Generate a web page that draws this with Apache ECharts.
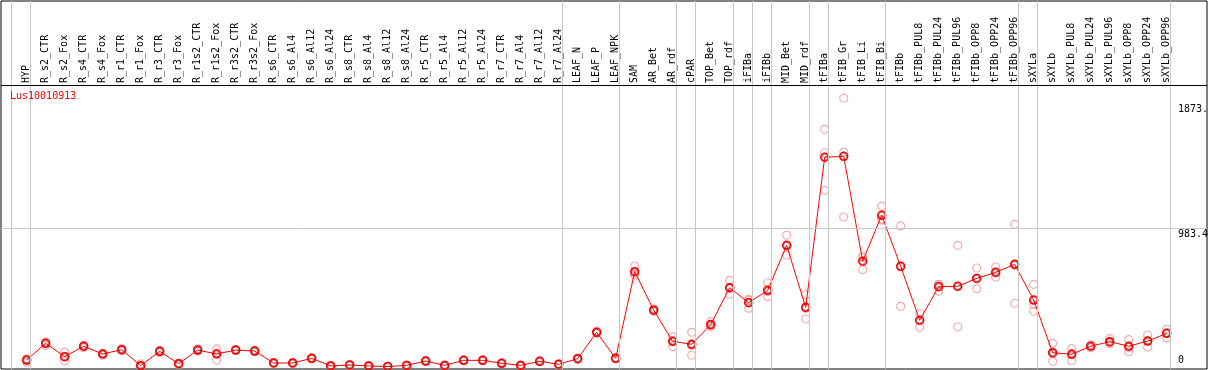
<!DOCTYPE html>
<html>
<head>
<meta charset="utf-8">
<script src="https://cdn.jsdelivr.net/npm/echarts@6/dist/echarts.min.js"></script>
<style>
html,body{margin:0;padding:0;background:#fff;}
#chart{width:1209px;height:370px;}
</style>
</head>
<body>
<div id="chart"></div>
<script>
const geneName = 'Lus10010913';
const categories = ['HYP','R_s2_CTR','R_s2_Fox','R_s4_CTR','R_s4_Fox','R_r1_CTR','R_r1_Fox','R_r3_CTR','R_r3_Fox','R_r1s2_CTR','R_r1s2_Fox','R_r3s2_CTR','R_r3s2_Fox','R_s6_CTR','R_s6_Al4','R_s6_Al12','R_s6_Al24','R_s8_CTR','R_s8_Al4','R_s8_Al12','R_s8_Al24','R_r5_CTR','R_r5_Al4','R_r5_Al12','R_r5_Al24','R_r7_CTR','R_r7_Al4','R_r7_Al12','R_r7_Al24','LEAF_N','LEAF_P','LEAF_NPK','SAM','AR_Bet','AR_rdf','cPAR','TOP_Bet','TOP_rdf','iFIBa','iFIBb','MID_Bet','MID_rdf','tFIBa','tFIB_Gr','tFIB_Li','tFIB_Bi','tFIBb','tFIBb_PUL8','tFIBb_PUL24','tFIBb_PUL96','tFIBb_OPP8','tFIBb_OPP24','tFIBb_OPP96','sXYLa','sXYLb','sXYLb_PUL8','sXYLb_PUL24','sXYLb_PUL96','sXYLb_OPP8','sXYLb_OPP24','sXYLb_OPP96'];
const means = [46,165,70,144,89,120,6,108,20,117,89,117,110,25,25,58,4,11,4,0,8,39,8,44,44,23,8,37,16,56,243,58,675,401,179,158,298,561,454,542,862,421,1489,1496,749,1076,713,329,568,571,627,670,727,473,98,87,144,177,144,181,236];
const rep1 = [55,175,101,150,95,128,18,115,25,125,125,120,115,28,28,62,6,13,6,1,10,42,10,47,47,26,10,40,19,59,250,62,715,410,212,243,319,613,478,596,934,511,1688,1909,781,1140,1000,379,585,862,701,708,1012,585,165,127,155,198,191,224,265];
const rep2 = [45,165,70,144,89,120,0,108,20,117,96,117,110,25,25,58,4,11,4,0,8,39,8,44,44,23,8,37,16,56,243,58,658,400,184,151,292,556,470,533,859,414,1521,1526,777,1047,713,329,582,570,627,668,720,441,92,93,144,170,136,182,240];
const rep3 = [30,150,41,135,80,112,0,100,15,110,46,113,105,22,22,54,2,9,2,0,6,36,6,41,41,20,6,34,13,53,236,54,652,393,141,80,283,514,414,497,793,338,1254,1064,689,1041,428,279,537,281,554,635,450,393,37,41,133,163,105,137,203];
const groupEnds = [-1,0,28,31,34,35,37,38,39,41,42,45,52,53,60];
const yTickValues = [0, 983.4, 1873];
const yTickLabels = ['0', '983.4', '1873.'];

// layout (pixels)
const FIRST_X = 26.7, STEP = 19, LEFT = 1, RIGHT_EDGE = 1207, TOP = 1, BOTTOM_EDGE = 369;
const ZERO_Y = 366.5, PX_PER_UNIT = 0.14053, HEADER_Y = 85.7, YLABEL_X = 1178;
const xMin = (LEFT - FIRST_X) / STEP, xMax = (RIGHT_EDGE - FIRST_X) / STEP;
const yMin = -(BOTTOM_EDGE - ZERO_Y) / PX_PER_UNIT, yMax = (ZERO_Y - TOP) / PX_PER_UNIT;
const headerVal = (ZERO_Y - HEADER_Y) / PX_PER_UNIT;
const FONT = 'DejaVu Sans Mono';

const chart = echarts.init(document.getElementById('chart'), null, {renderer: 'canvas'});
const pts = arr => arr.map((v, i) => [i, v]);

const tickMarks = yTickValues.map((v, k) => ({
  yAxis: v,
  lineStyle: v === 983.4 ? {color: '#c8c8c8', width: 1, type: 'solid'} : {color: 'rgba(0,0,0,0)', width: 0},
  label: {show: true, formatter: yTickLabels[k], position: v === 0 ? 'insideEndTop' : 'insideEndBottom',
          align: 'left', distance: [RIGHT_EDGE - YLABEL_X, 1], color: '#000', fontFamily: FONT, fontSize: 10}
}));

chart.setOption({
  animation: false,
  backgroundColor: '#fff',
  title: {text: geneName, left: 10, top: 91, padding: 0, textStyle: {color: '#ff0000', fontSize: 10, fontWeight: 'normal', fontFamily: FONT}},
  grid: [
    {left: LEFT, top: TOP, right: 1209 - RIGHT_EDGE, bottom: 370 - BOTTOM_EDGE, show: true, borderColor: '#000', borderWidth: 1, backgroundColor: 'transparent'},
    {left: FIRST_X - STEP / 2, width: STEP * categories.length, top: 86, height: 1}
  ],
  xAxis: [
    {gridIndex: 0, type: 'value', min: xMin, max: xMax, show: false},
    {gridIndex: 1, type: 'category', data: categories, position: 'top', boundaryGap: true,
     axisLine: {show: false}, axisTick: {show: false},
     axisLabel: {rotate: 90, interval: 0, margin: 3, color: '#000', fontFamily: FONT, fontSize: 10}}
  ],
  yAxis: [
    {gridIndex: 0, type: 'value', min: yMin, max: yMax, show: false},
    {gridIndex: 1, type: 'value', show: false}
  ],
  series: [
    {
      name: 'guides', type: 'line', xAxisIndex: 0, yAxisIndex: 0, data: [], silent: true, z: 1,
      markLine: {
        silent: true, symbol: ['none', 'none'], animation: false,
        label: {show: false},
        data: groupEnds.map(g => ({xAxis: g + 0.2, lineStyle: {color: '#c8c8c8', width: 1, type: 'solid'}, label: {show: false}}))
          .concat([{yAxis: headerVal, lineStyle: {color: '#000', width: 1, type: 'solid'}, label: {show: false}}])
          .concat(tickMarks)
      }
    },
    ...[rep1, rep2, rep3].map(r => ({
      type: 'scatter', xAxisIndex: 0, yAxisIndex: 0, data: pts(r), symbol: 'circle', symbolSize: 8, z: 2,
      itemStyle: {color: 'rgba(0,0,0,0)', borderColor: '#f09a9a', borderWidth: 1.2}
    })),
    {
      type: 'line', xAxisIndex: 0, yAxisIndex: 0, data: pts(means), z: 3,
      lineStyle: {color: '#ff0000', width: 1}, showAllSymbol: true,
      symbol: 'circle', symbolSize: 8,
      itemStyle: {color: 'rgba(0,0,0,0)', borderColor: '#ff0000', borderWidth: 1.5}
    },
    {
      type: 'scatter', xAxisIndex: 0, yAxisIndex: 0, data: pts(means), z: 4,
      symbol: 'circle', symbolSize: 6,
      itemStyle: {color: 'rgba(0,0,0,0)', borderColor: 'rgba(90,0,0,0.6)', borderWidth: 1}
    }
  ]
});
</script>
</body>
</html>
